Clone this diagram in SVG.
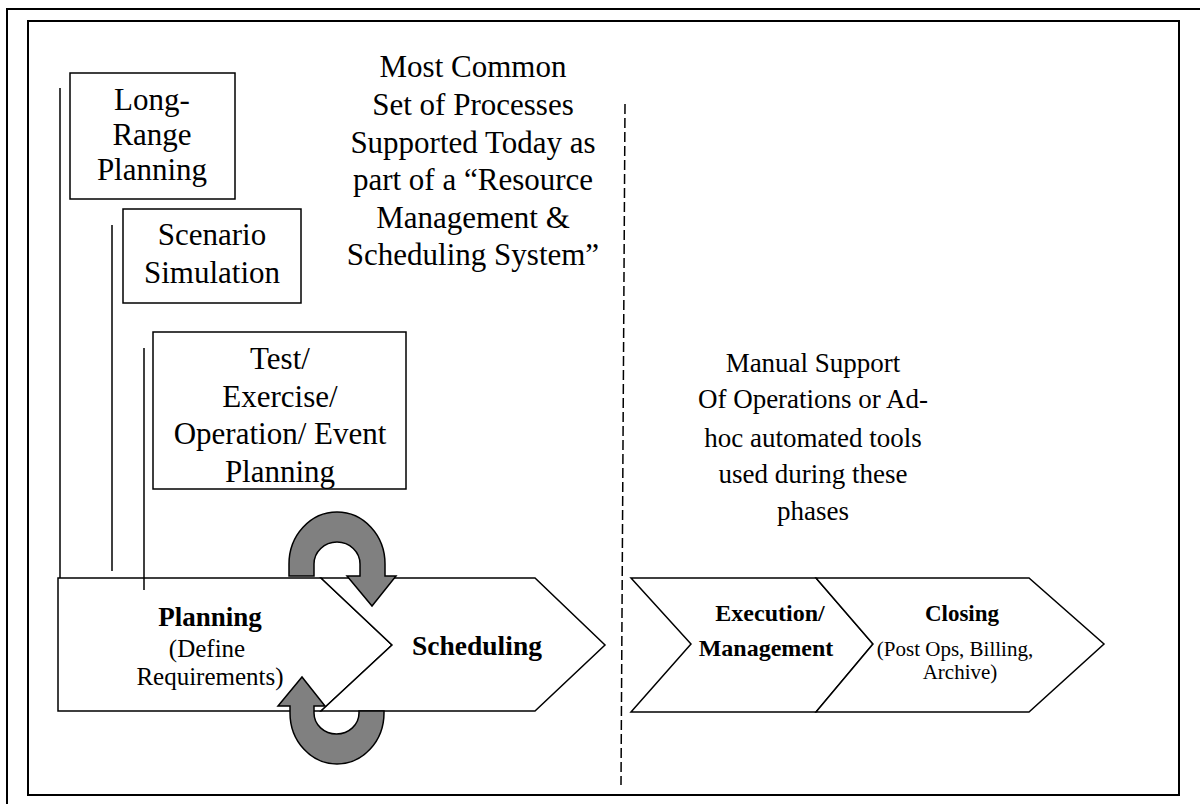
<svg xmlns="http://www.w3.org/2000/svg" width="1200" height="804" viewBox="0 0 1200 804">
<style>
.frame{fill:none;stroke:#000;stroke-width:2}
.box{fill:#fff;stroke:#000;stroke-width:1.5}
.shape{fill:#fff;stroke:#000;stroke-width:1.5}
.loop{fill:#808080;stroke:#000;stroke-width:1.5;stroke-linejoin:miter}
.bar{stroke:#000;stroke-width:1.5;fill:none}
.dash{stroke:#000;stroke-width:1.5;stroke-dasharray:10 4;fill:none}
text{font-family:"Liberation Serif","Times New Roman",serif;fill:#000;text-anchor:middle}
.t31{font-size:31px}
.t27{font-size:27px}
.b{font-weight:bold}
</style>
<rect width="1200" height="804" fill="#fff"/>
<g id="frames">
<rect class="frame" x="7" y="9" width="1210" height="810" stroke="#333"/>
<rect class="frame" x="28" y="21" width="1151" height="774"/>
</g>
<g id="connectors">
<line class="bar" x1="60" y1="88" x2="60" y2="578"/>
<line class="bar" x1="112" y1="225" x2="112" y2="571"/>
<line class="dash" x1="625" y1="104" x2="621" y2="785"/>
</g>
<g id="long-range">
<rect class="box" x="70" y="73" width="165" height="126"/>
<text class="t31" x="152" y="110">Long-</text>
<text class="t31" x="152" y="145">Range</text>
<text class="t31" x="152" y="180">Planning</text>
</g>
<g id="scenario">
<rect class="box" x="123" y="209" width="178" height="94"/>
<text class="t31" x="212" y="245">Scenario</text>
<text class="t31" x="212" y="283">Simulation</text>
</g>
<g id="test-planning">
<rect class="box" x="153" y="332" width="253" height="157"/>
<text class="t31" x="280" y="369">Test/</text>
<text class="t31" x="280" y="407">Exercise/</text>
<text class="t31" x="280" y="444">Operation/ Event</text>
<text class="t31" x="280" y="482">Planning</text>
</g>
<g id="most-common">
<text class="t31" x="473" y="77">Most Common</text>
<text class="t31" x="473" y="115">Set of Processes</text>
<text class="t31" x="473" y="153">Supported Today as</text>
<text class="t31" x="473" y="190">part of a “Resource</text>
<text class="t31" x="473" y="228">Management &amp;</text>
<text class="t31" x="473" y="265">Scheduling System”</text>
</g>
<g id="manual-support">
<text class="t27" x="813" y="372">Manual Support</text>
<text class="t27" x="813" y="408">Of Operations or Ad-</text>
<text class="t27" x="813" y="447">hoc automated tools</text>
<text class="t27" x="813" y="483">used during these</text>
<text class="t27" x="813" y="520">phases</text>
</g>
<g id="planning">
<polygon class="shape" points="58,578 321,578 392,645 321,711 58,711"/>
<text class="b" x="210" y="626" font-size="27">Planning</text>
<text x="207" y="657" font-size="25">(Define</text>
<text x="210" y="685" font-size="25">Requirements)</text>
</g>
<g id="scheduling">
<polygon class="shape" points="321,578 535,578 605,645 535,711 321,711 392,645"/>
<text class="b" x="477" y="655" font-size="27.5">Scheduling</text>
</g>
<g id="bracket-test">
<line class="bar" x1="144" y1="348" x2="144" y2="590"/>
</g>
<g id="execution">
<polygon class="shape" points="631,578 816,578 873,644 816,712 631,712 691,644"/>
<text class="b" x="770" y="621" font-size="24">Execution/</text>
<text class="b" x="766" y="656" font-size="24">Management</text>
</g>
<g id="closing">
<polygon class="shape" points="816,578 1029,578 1104,644 1029,712 816,712 873,644"/>
<text class="b" x="962" y="621" font-size="23">Closing</text>
<text x="955" y="656" font-size="21">(Post Ops, Billing,</text>
<text x="960" y="679" font-size="21">Archive)</text>
</g>
<g id="loop-top">
<path class="loop" d="M289,576 L289,564 A48,52 0 0 1 385,564 L385,576 L396,576 L372,606 L347,576 L360,576 L360,564 A23,22 0 0 0 314,564 L314,576 Z"/>
</g>
<g id="loop-bottom">
<path class="loop" d="M278,706 L302,677 L325,706 L314,706 L314,713 A22.5,21 0 0 0 359,713 L359,711 L384,711 L384,713 A47,51 0 0 1 290,713 L290,706 Z"/>
</g>
</svg>
